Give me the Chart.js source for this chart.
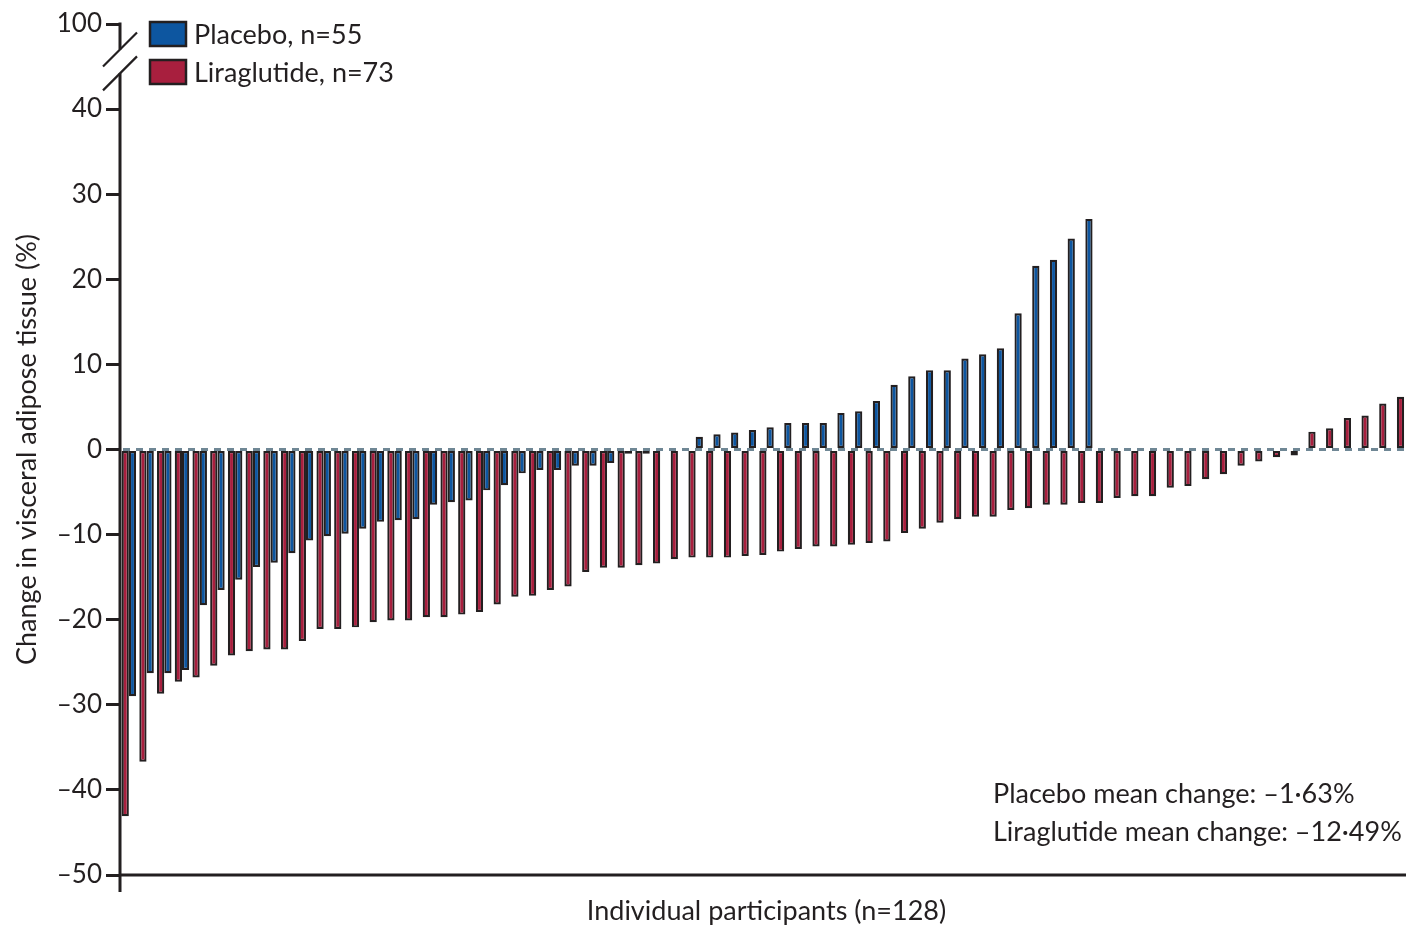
<!DOCTYPE html>
<html>
<head>
<meta charset="utf-8">
<script src="https://cdn.jsdelivr.net/npm/chart.js@4.4.1/dist/chart.umd.min.js"></script>
<style>
  html, body { margin: 0; padding: 0; background: #fff; overflow: hidden; }
  #wrap { position: relative; width: 1413px; height: 927px; }
</style>
</head>
<body>
<div id="wrap"><canvas id="chart"></canvas></div>
<script>
// one slot per participant pair (73 liraglutide, 55 placebo)
const participants = Array.from({ length: 73 }, (_, i) => String(i + 1));

// % change in visceral adipose tissue, sorted within each arm
const placebo = [
  -29.0, -26.3, -26.3, -25.9, -18.3, -16.5, -15.3, -13.8, -13.3, -12.2,
  -10.7, -10.2, -9.9, -9.3, -8.5, -8.3, -8.2, -6.5, -6.2, -6.0,
  -4.8, -4.2, -2.8, -2.4, -2.4, -1.9, -1.9, -1.6, -0.5, -0.5,
  0, 0, 1.5, 1.8, 2.0, 2.3, 2.6, 3.1, 3.1, 3.1,
  4.3, 4.5, 5.7, 7.6, 8.6, 9.3, 9.3, 10.7, 11.2, 11.9,
  16.0, 21.6, 22.3, 24.8, 27.1
];
const liraglutide = [
  -43.1, -36.7, -28.7, -27.3, -26.8, -25.4, -24.2, -23.7, -23.5, -23.5,
  -22.5, -21.1, -21.1, -20.9, -20.3, -20.1, -20.1, -19.7, -19.7, -19.4,
  -19.1, -18.2, -17.3, -17.2, -16.5, -16.1, -14.4, -13.9, -13.9, -13.6,
  -13.4, -12.9, -12.7, -12.7, -12.7, -12.5, -12.4, -12.0, -11.7, -11.4,
  -11.4, -11.2, -11.0, -10.8, -9.8, -9.3, -8.6, -8.2, -7.9, -7.9,
  -7.1, -6.9, -6.5, -6.5, -6.3, -6.3, -5.7, -5.5, -5.5, -4.5,
  -4.3, -3.5, -2.9, -1.9, -1.4, -0.9, -0.7, 2.1, 2.5, 3.7,
  4.0, 5.4, 6.2
];

// broken axis: the top tick sits at 50 on the scale but reads 100
const yMin = -50, yMax = 50, yStep = 10;
const brokenTick = 50, brokenLabel = '100';
const notes = ['Placebo mean change: \u20131\u00b763%', 'Liraglutide mean change: \u201312\u00b749%'];

const BLUE = '#0d56a0';
const RED = '#a81f3e';
const INK = '#231f20';
const FONT = 'Lato, "Open Sans", sans-serif';

const chrome = {
  id: 'chrome',
  afterDatasetsDraw(chart) {
    const { ctx, chartArea: a, scales: { y } } = chart;
    const y0 = y.getPixelForValue(0);
    ctx.save();

    // dashed zero line over the bars
    ctx.strokeStyle = '#6f8795';
    ctx.lineWidth = 3;
    ctx.setLineDash([7, 6]);
    ctx.beginPath();
    ctx.moveTo(a.left + 3, y0);
    ctx.lineTo(chart.width, y0);
    ctx.stroke();
    ctx.setLineDash([]);

    // axes with the break
    const yTop = y.getPixelForValue(brokenTick);
    const breakA = y.getPixelForValue(47);
    const breakB = y.getPixelForValue(44.2);
    ctx.strokeStyle = INK;
    ctx.lineWidth = 3;
    ctx.beginPath();
    ctx.moveTo(a.left, yTop - 1.5);
    ctx.lineTo(a.left, breakA);
    ctx.moveTo(a.left, breakB);
    ctx.lineTo(a.left, a.bottom + 17);
    ctx.moveTo(a.left, a.bottom);
    ctx.lineTo(chart.width, a.bottom);
    ctx.stroke();
    ctx.lineWidth = 2.2;
    ctx.beginPath();
    ctx.moveTo(a.left - 17, breakA + 17);
    ctx.lineTo(a.left + 17, breakA - 17);
    ctx.moveTo(a.left - 17, breakB + 17);
    ctx.lineTo(a.left + 17, breakB - 17);
    ctx.stroke();

    // legend, placebo first
    const items = [chart.data.datasets[1], chart.data.datasets[0]];
    ctx.font = '27px ' + FONT;
    ctx.textBaseline = 'middle';
    ctx.textAlign = 'left';
    items.forEach((ds, i) => {
      const top = 22 + i * 38;
      ctx.fillStyle = ds.backgroundColor;
      ctx.fillRect(150, top, 36, 24);
      ctx.lineWidth = 2.5;
      ctx.strokeStyle = INK;
      ctx.strokeRect(150, top, 36, 24);
      ctx.fillStyle = INK;
      ctx.fillText(ds.label, 194, top + 13);
    });

    // mean change notes
    notes.forEach((t, i) => ctx.fillText(t, 993, 794 + i * 38));
    ctx.restore();
  }
};

new Chart(document.getElementById('chart'), {
  type: 'bar',
  data: {
    labels: participants,
    datasets: [{
      label: 'Liraglutide, n=73',
      data: liraglutide,
      backgroundColor: RED,
      borderColor: INK,
      borderWidth: 2.2,
      borderSkipped: false
    }, {
      label: 'Placebo, n=55',
      data: placebo,
      backgroundColor: BLUE,
      borderColor: INK,
      borderWidth: 2.2,
      borderSkipped: false
    }]
  },
  options: {
    responsive: true,
    maintainAspectRatio: false,
    animation: false,
    datasets: {
      bar: { barPercentage: 1, categoryPercentage: 0.82 }
    },
    layout: { padding: { top: 24, left: 0, right: 0, bottom: 0 } },
    plugins: {
      legend: { display: false },
      tooltip: { enabled: false }
    },
    scales: {
      x: {
        ticks: { display: false },
        grid: { display: false },
        border: { display: false },
        title: {
          display: true,
          text: 'Individual participants (n=128)',
          color: INK,
          font: { family: FONT, size: 27 },
          padding: 0
        },
        afterFit(s) { s.height = 52; }
      },
      y: {
        min: yMin,
        max: yMax,
        ticks: {
          stepSize: yStep,
          color: INK,
          padding: 4,
          font: { family: FONT, size: 26 },
          callback: v => v === brokenTick ? brokenLabel : (v < 0 ? '\u2013' + Math.abs(v) : String(v))
        },
        grid: {
          drawOnChartArea: false,
          drawTicks: true,
          tickLength: 14,
          lineWidth: 3,
          color: INK
        },
        border: { display: false },
        title: {
          display: true,
          text: 'Change in visceral adipose tissue (%)',
          color: INK,
          font: { family: FONT, size: 27 },
          padding: { top: 11, bottom: 0 }
        },
        afterFit(s) { s.width = 120; }
      }
    }
  },
  plugins: [chrome]
});
</script>
</body>
</html>
